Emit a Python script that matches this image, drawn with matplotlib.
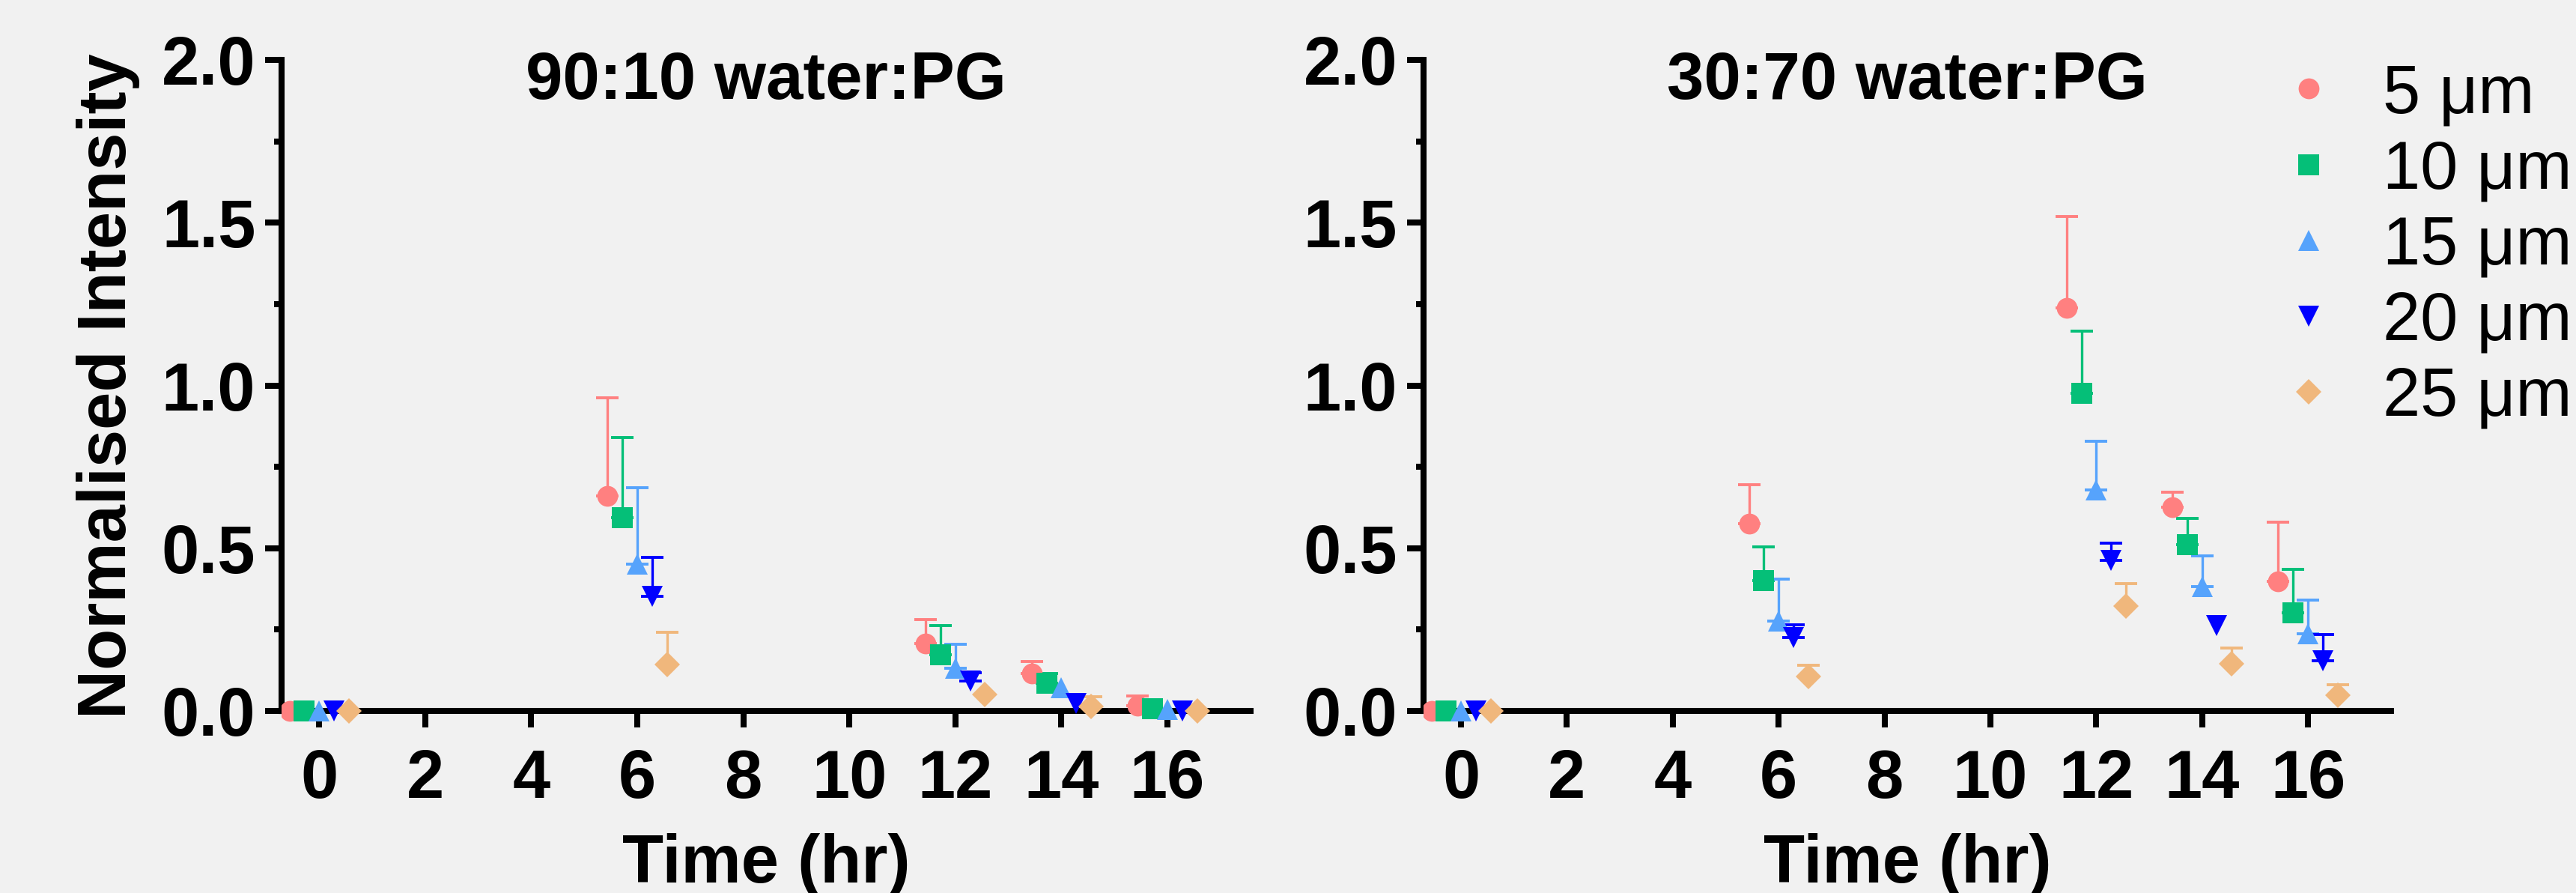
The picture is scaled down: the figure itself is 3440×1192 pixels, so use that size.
import numpy as np
import matplotlib
matplotlib.use("Agg")
import matplotlib.pyplot as plt
from matplotlib.ticker import MultipleLocator, FormatStrFormatter

# sampling times (hr) and particle sizes
times = np.array([0, 6, 12, 14, 16])
sizes = ["5 μm", "10 μm", "15 μm", "20 μm", "25 μm"]
colors = ["#FF8080", "#05BF78", "#56A3FC", "#0000FF", "#F0B77C"]
markers = ["o", "s", "^", "v", "D"]
offsets = [-0.56, -0.28, 0.0, 0.28, 0.56]

# 90:10 water:PG  (mean, upper SD)
w90_5 = [0, 0.660, 0.208, 0.115, 0.017]
w90_10 = [0, 0.594, 0.173, 0.084, 0.006]
w90_15 = [0, 0.452, 0.132, 0.071, 0.004]
w90_20 = [0, 0.352, 0.091, 0.022, 0.0]
w90_25 = [0, 0.142, 0.051, 0.013, 0.0]
w90_5_sd = [0, 0.303, 0.073, 0.036, 0.028]
w90_10_sd = [0, 0.245, 0.090, 0.031, 0.0]
w90_15_sd = [0, 0.233, 0.072, 0.0, 0.0]
w90_20_sd = [0, 0.120, 0.027, 0.0, 0.0]
w90_25_sd = [0, 0.100, 0.0, 0.030, 0.0]

# 30:70 water:PG
w30_5 = [0, 0.575, 1.239, 0.625, 0.398]
w30_10 = [0, 0.401, 0.977, 0.510, 0.301]
w30_15 = [0, 0.276, 0.680, 0.382, 0.237]
w30_20 = [0, 0.225, 0.463, 0.262, 0.154]
w30_25 = [0, 0.107, 0.323, 0.144, 0.048]
w30_5_sd = [0, 0.119, 0.280, 0.047, 0.182]
w30_10_sd = [0, 0.103, 0.191, 0.081, 0.135]
w30_15_sd = [0, 0.128, 0.149, 0.094, 0.103]
w30_20_sd = [0, 0.040, 0.053, 0.0, 0.081]
w30_25_sd = [0, 0.033, 0.069, 0.049, 0.033]

BG = "#F1F1F1"
FONT = "Liberation Sans"
plt.rcParams["font.family"] = [FONT, "DejaVu Sans"]


def draw_panel(ax, title, means, sds):
    ax.set_facecolor(BG)
    for i in range(len(sizes)):
        x = times + offsets[i]
        y = np.array(means[i])
        e = np.array(sds[i])
        keep = e > 0
        if keep.any():
            ax.errorbar(x[keep], y[keep], yerr=[np.zeros(keep.sum()), e[keep]],
                        fmt="none", ecolor=colors[i], elinewidth=2.4,
                        capsize=10.5, capthick=2.8, zorder=3)
        ms = 17.5 if markers[i] == "D" else 20
        ax.plot(x, y, ls="none", marker=markers[i], color=colors[i], ms=ms,
                mew=0, zorder=4, label=sizes[i])

    ax.set_xlim(-0.71, 17.57)
    ax.set_ylim(-0.06, 2.0)
    for s in ["top", "right"]:
        ax.spines[s].set_visible(False)
    ax.spines["bottom"].set_position(("data", 0))
    ax.spines["left"].set_bounds(0, 2.0)
    for s in ["left", "bottom"]:
        ax.spines[s].set_linewidth(5.8)
        ax.spines[s].set_capstyle("projecting")

    ax.xaxis.set_major_locator(MultipleLocator(2))
    ax.yaxis.set_major_locator(MultipleLocator(0.5))
    ax.yaxis.set_minor_locator(MultipleLocator(0.25))
    ax.yaxis.set_major_formatter(FormatStrFormatter("%.1f"))
    ax.tick_params(axis="both", which="major", direction="out", length=16,
                   width=5.8, labelsize=65)
    ax.tick_params(axis="y", which="minor", direction="out", length=7, width=5.8)
    ax.tick_params(axis="x", which="major", pad=20)
    ax.tick_params(axis="y", which="major", pad=9)
    for lab in ax.get_xticklabels() + ax.get_yticklabels():
        lab.set_fontweight("bold")

    ax.text(0.5, 0.942, title, transform=ax.transAxes, ha="center",
            va="baseline", fontsize=64, fontweight="bold")


fig = plt.figure(figsize=(34.4, 11.92), dpi=100, facecolor=BG)
ax1 = fig.add_axes([0.1093, 0.182, 0.3762, 0.7508])
ax2 = fig.add_axes([0.5526, 0.182, 0.3756, 0.7508])

draw_panel(ax1, "90:10 water:PG",
           [w90_5, w90_10, w90_15, w90_20, w90_25],
           [w90_5_sd, w90_10_sd, w90_15_sd, w90_20_sd, w90_25_sd])
draw_panel(ax2, "30:70 water:PG",
           [w30_5, w30_10, w30_15, w30_20, w30_25],
           [w30_5_sd, w30_10_sd, w30_15_sd, w30_20_sd, w30_25_sd])

fig.text(168 / 3440, 1 - 515 / 1192, "Normalised Intensity", rotation=90,
         rotation_mode="anchor", ha="center", va="baseline",
         fontsize=65, fontweight="bold")
for ax in (ax1, ax2):
    bb = ax.get_position()
    fig.text((bb.x0 + bb.x1) / 2, 1 - 1178 / 1192, "Time (hr)", ha="center",
             va="baseline", fontsize=65, fontweight="bold")

handles, labels = ax2.get_legend_handles_labels()
fig.legend(handles, labels, loc="upper left",
           bbox_to_anchor=(3038 / 3440, 1 - 84 / 1192), frameon=False,
           fontsize=65, handlelength=1.0, handletextpad=0.6,
           labelspacing=0.18, borderpad=0, borderaxespad=0, numpoints=1)

fig.savefig("out.png", dpi=100, facecolor=BG)
